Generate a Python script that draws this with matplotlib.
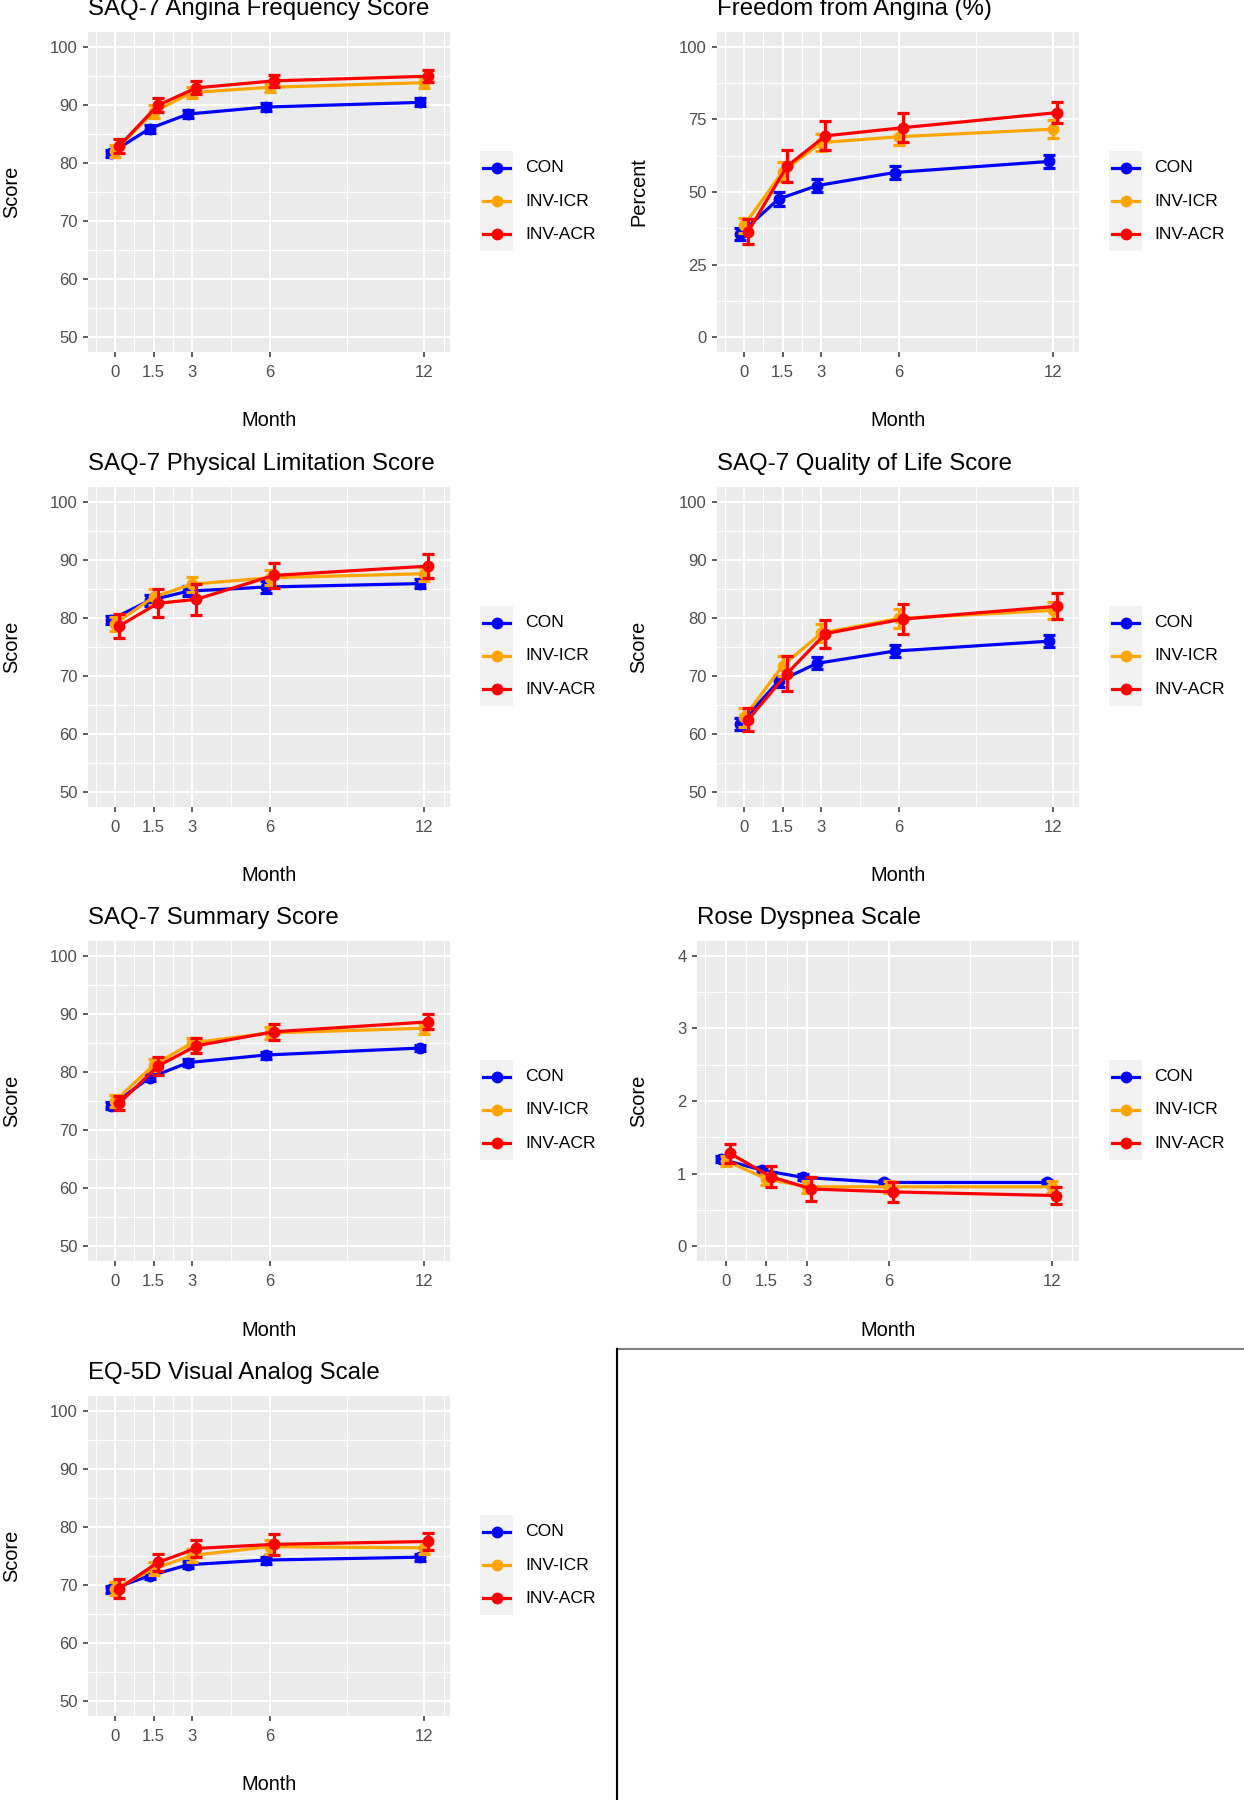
import matplotlib
matplotlib.use("Agg")
import matplotlib.pyplot as plt
import numpy as np

plt.rcParams['font.family'] = ['Liberation Sans', 'DejaVu Sans']

#%% data
months = [0, 1.5, 3, 6, 12]
groups = ['CON', 'INV-ICR', 'INV-ACR']
colors = ['#0000FF', '#FFA500', '#FF0000']
dodge = [-0.16, 0.0, 0.16]

# SAQ-7 Angina Frequency
af_mean = [[81.7, 85.9, 88.4, 89.6, 90.4],
           [82.1, 88.8, 92.1, 93.0, 93.8],
           [82.9, 89.9, 92.9, 94.1, 94.9]]
af_err = [[0.6, 0.7, 0.7, 0.7, 0.7],
          [1.0, 1.1, 0.9, 0.8, 0.9],
          [1.2, 1.2, 1.1, 1.0, 1.0]]

# Freedom from angina (%)
fa_mean = [[35.6, 47.6, 52.2, 56.7, 60.5],
           [38.5, 57.0, 67.0, 69.0, 71.6],
           [36.4, 58.8, 69.3, 72.1, 77.3]]
fa_err = [[2.0, 2.4, 2.3, 2.1, 2.3],
          [2.5, 3.2, 2.8, 2.8, 3.0],
          [4.4, 5.5, 5.0, 5.0, 3.7]]

# SAQ-7 Physical Limitation
pl_mean = [[79.7, 83.0, 84.6, 85.3, 85.9],
           [79.0, 83.6, 85.8, 86.9, 87.6],
           [78.6, 82.5, 83.2, 87.3, 88.9]]
pl_err = [[0.7, 0.9, 0.9, 1.0, 0.8],
          [1.2, 1.3, 1.3, 1.3, 1.2],
          [2.1, 2.4, 2.7, 2.2, 2.0]]

# SAQ-7 Quality of Life
ql_mean = [[61.8, 69.1, 72.2, 74.3, 76.0],
           [62.9, 71.8, 77.4, 79.9, 81.3],
           [62.5, 70.4, 77.3, 79.8, 82.0]]
ql_err = [[1.0, 1.0, 1.0, 1.0, 1.0],
          [1.6, 1.7, 1.6, 1.7, 1.5],
          [2.0, 3.0, 2.4, 2.6, 2.2]]

# SAQ-7 Summary
ss_mean = [[74.2, 79.0, 81.6, 82.9, 84.1],
           [75.0, 81.2, 85.0, 86.7, 87.5],
           [74.6, 81.0, 84.5, 86.9, 88.6]]
ss_err = [[0.6, 0.6, 0.6, 0.6, 0.5],
          [1.0, 1.0, 0.9, 1.0, 0.9],
          [1.2, 1.5, 1.3, 1.4, 1.3]]

# Rose Dyspnea
rd_mean = [[1.20, 1.05, 0.95, 0.88, 0.88],
           [1.18, 0.93, 0.82, 0.82, 0.82],
           [1.28, 0.96, 0.79, 0.75, 0.70]]
rd_err = [[0.04, 0.04, 0.04, 0.04, 0.04],
          [0.07, 0.08, 0.08, 0.08, 0.08],
          [0.13, 0.14, 0.16, 0.14, 0.12]]

# EQ-5D VAS
eq_mean = [[69.3, 71.6, 73.5, 74.3, 74.8],
           [69.4, 72.8, 75.1, 76.6, 76.4],
           [69.4, 73.9, 76.3, 77.0, 77.5]]
eq_err = [[0.6, 0.6, 0.6, 0.6, 0.6],
          [1.1, 1.1, 1.1, 1.2, 1.1],
          [1.6, 1.4, 1.4, 1.8, 1.4]]

score_ticks = [50, 60, 70, 80, 90, 100]
pct_ticks = [0, 25, 50, 75, 100]
rose_ticks = [0, 1, 2, 3, 4]

#%% layout (pixels)
W, H = 1244, 1800
fig = plt.figure(figsize=(W / 100, H / 100), dpi=100)

def rect(x, y, w, h):
    return [x / W, 1 - (y + h) / H, w / W, h / H]

def minor(ticks, lo, hi):
    t = list(ticks)
    b = [t[0] - (t[1] - t[0])] + t + [t[-1] + (t[1] - t[0])]
    m = [(a + c) / 2 for a, c in zip(b[:-1], b[1:])]
    return [v for v in m if lo < v < hi]

def panel(x, y, w, title, ylab, means, errs, yticks, ylim):
    ax = fig.add_axes(rect(x, y, w, 320))
    ax.set_facecolor('#EBEBEB')
    for s in ax.spines.values():
        s.set_visible(False)
    ax.set_axisbelow(True)
    ax.set_xlim(-1.05, 13.0)
    ax.set_ylim(*ylim)
    ax.set_xticks(months)
    ax.set_xticklabels(['0', '1.5', '3', '6', '12'])
    ax.set_yticks(yticks)
    ax.set_xticks(minor([0, 1.5, 3, 6, 12], -1.05, 13.0), minor=True)
    ax.set_yticks(minor(yticks, *ylim), minor=True)
    ax.grid(which='major', color='white', lw=1.5)
    ax.grid(which='minor', color='white', lw=0.8)
    ax.tick_params(which='major', direction='out', length=3.6, width=1.1,
                   color='#333333', labelcolor='#4D4D4D', labelsize=12, pad=4)
    ax.tick_params(axis='x', which='major', pad=5.5)
    ax.tick_params(which='minor', length=0)
    for g in range(3):
        xs = np.array(months) + dodge[g]
        ax.errorbar(xs, means[g], yerr=errs[g], color=colors[g], lw=2.3,
                    elinewidth=2.3, capsize=4.5, capthick=2.3,
                    marker='o', ms=7.5, zorder=3 + g)
    ax.set_title(title, loc='left', fontsize=17.3, pad=12, color='black')
    ax.set_ylabel(ylab, fontsize=14.4, va='center')
    ax.yaxis.set_label_coords(-(x - (12 if x < 600 else 639)) / w, 0.5)
    ax.set_xlabel('Month', fontsize=14.4, va='center')
    ax.xaxis.set_label_coords(0.5, -69 / 320)

    # legend: grey key column with labels to its right
    kx = x + w + 30
    ky = y + 160 + 9 - 50
    lg = fig.add_axes(rect(kx, ky, 33, 100))
    lg.set_facecolor('#F2F2F2')
    for s in lg.spines.values():
        s.set_visible(False)
    lg.set_xticks([])
    lg.set_yticks([])
    lg.set_xlim(0, 1)
    lg.set_ylim(3, 0)
    for g in range(3):
        lg.plot([0.1, 0.9], [g + 0.5, g + 0.5], color=colors[g], lw=2.3)
        lg.plot([0.5], [g + 0.5], 'o', color=colors[g], ms=7.5)
        lg.text(1.36, g + 0.5, groups[g], fontsize=12.6, color='black',
                va='center', ha='left', clip_on=False)
    return ax

rows = [32, 487, 941, 1396]
panel(88, rows[0], 362, 'SAQ-7 Angina Frequency Score', 'Score',
      af_mean, af_err, score_ticks, (47.5, 102.5))
panel(717, rows[0], 362, 'Freedom from Angina (%)', 'Percent',
      fa_mean, fa_err, pct_ticks, (-5, 105))
panel(88, rows[1], 362, 'SAQ-7 Physical Limitation Score', 'Score',
      pl_mean, pl_err, score_ticks, (47.5, 102.5))
panel(717, rows[1], 362, 'SAQ-7 Quality of Life Score', 'Score',
      ql_mean, ql_err, score_ticks, (47.5, 102.5))
panel(88, rows[2], 362, 'SAQ-7 Summary Score', 'Score',
      ss_mean, ss_err, score_ticks, (47.5, 102.5))
panel(697, rows[2], 382, 'Rose Dyspnea Scale', 'Score',
      rd_mean, rd_err, rose_ticks, (-0.2, 4.2))
panel(88, rows[3], 362, 'EQ-5D Visual Analog Scale', 'Score',
      eq_mean, eq_err, score_ticks, (47.5, 102.5))

# empty bottom-right frame
fig.add_artist(plt.Line2D([617 / W, 1], [1 - 1349 / H, 1 - 1349 / H],
                          color='#7F7F7F', lw=1.5, transform=fig.transFigure))
fig.add_artist(plt.Line2D([617 / W, 617 / W], [1 - 1349 / H, 0],
                          color='black', lw=1.5, transform=fig.transFigure))

fig.savefig('out.png', dpi=100, facecolor='white')
